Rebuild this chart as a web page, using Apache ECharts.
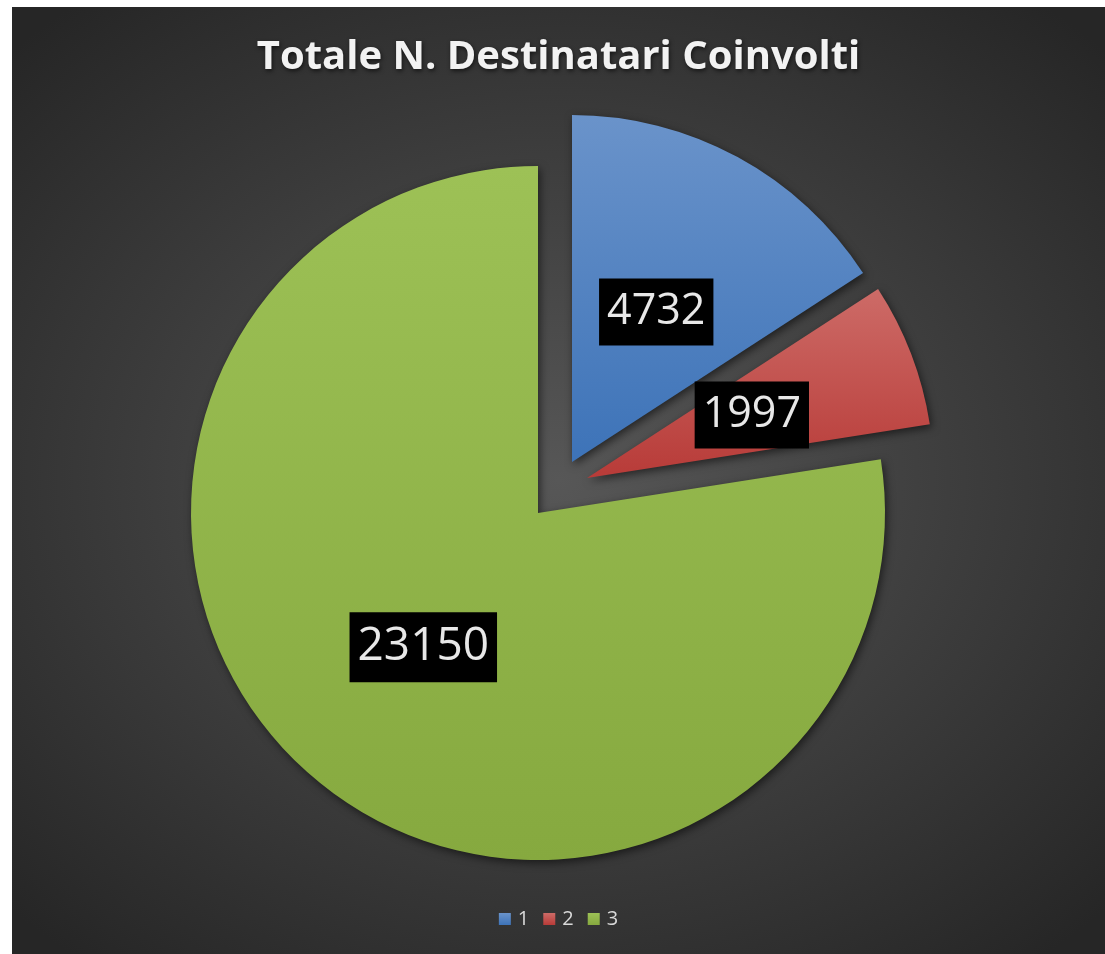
<!DOCTYPE html>
<html>
<head>
<meta charset="utf-8">
<title>Totale N. Destinatari Coinvolti</title>
<script src="https://cdn.jsdelivr.net/npm/echarts@6/dist/echarts.min.js"></script>
<style>
  html, body { margin: 0; padding: 0; background: #fff; }
  #chart {
    position: absolute;
    left: 12px;
    top: 7px;
    width: 1093px;
    height: 947px;
    background: radial-gradient(ellipse 70% 65% at 50% 50%, #575757 0%, #3c3c3c 55%, #262626 100%);
  }
</style>
</head>
<body>
<div id="chart"></div>
<script>
  // dati
  const categories = ['1', '2', '3'];
  const values = [4732, 1997, 23150];

  // gradienti verticali (chiaro in alto, scuro in basso)
  const colorsTop = ['#6a93ca', '#cd6b67', '#9dc156'];
  const colorsBottom = ['#3d73b8', '#b83b38', '#86a93f'];
  const labelSizes = [43, 43, 46];
  // centro di ogni fetta (le prime due sono "esplose" come in Excel)
  const sliceCenters = [[560, 455], [575, 471], [526, 506]];

  function grad(i) {
    return new echarts.graphic.LinearGradient(0, 0, 0, 1, [
      { offset: 0, color: colorsTop[i] },
      { offset: 1, color: colorsBottom[i] }
    ]);
  }

  const chart = echarts.init(document.getElementById('chart'));

  // una serie per fetta, cosi' ogni fetta puo' avere il suo spostamento
  const series = categories.map((_, k) => ({
    type: 'pie',
    center: sliceCenters[k],
    radius: [0, 347],
    startAngle: 90,
    clockwise: true,
    emphasis: { disabled: true },
    animation: false,
    labelLine: { show: false },
    z: k === 2 ? 1 : 2,
    data: categories.map((name, i) => {
      if (i !== k) {
        return {
          name: name,
          value: values[i],
          itemStyle: { color: 'rgba(0,0,0,0)' },
          label: { show: false }
        };
      }
      return {
        name: name,
        value: values[i],
        itemStyle: {
          color: grad(i),
          shadowBlur: 8,
          shadowColor: 'rgba(0,0,0,0.55)',
          shadowOffsetX: 2,
          shadowOffsetY: 3
        },
        label: {
          show: true,
          position: 'inside',
          formatter: '{c}',
          color: '#e8e8e8',
          fontFamily: 'Open Sans',
          fontSize: labelSizes[i],
          lineHeight: labelSizes[i] + 12,
          backgroundColor: '#000',
          padding: [6, 8],
          offset: i === 0 ? [0, 5] : [0, 0]
        }
      };
    })
  }));

  chart.setOption({
    title: {
      text: 'Totale N. Destinatari Coinvolti',
      left: 'center',
      top: 26,
      textStyle: {
        color: '#f2f2f2',
        fontFamily: 'Open Sans',
        fontWeight: 'bold',
        fontSize: 40,
        textShadowColor: 'rgba(0,0,0,0.6)',
        textShadowBlur: 4,
        textShadowOffsetX: 1,
        textShadowOffsetY: 2
      }
    },
    legend: {
      data: categories.map((name, i) => ({ name: name, itemStyle: { color: grad(i) } })),
      bottom: 20,
      left: 'center',
      icon: 'rect',
      itemWidth: 12,
      itemHeight: 12,
      itemGap: 14,
      selectedMode: false,
      textStyle: {
        color: '#d9d9d9',
        fontFamily: 'Open Sans',
        fontSize: 20,
        padding: [0, 0, 0, 2]
      }
    },
    series: series
  });
</script>
</body>
</html>
